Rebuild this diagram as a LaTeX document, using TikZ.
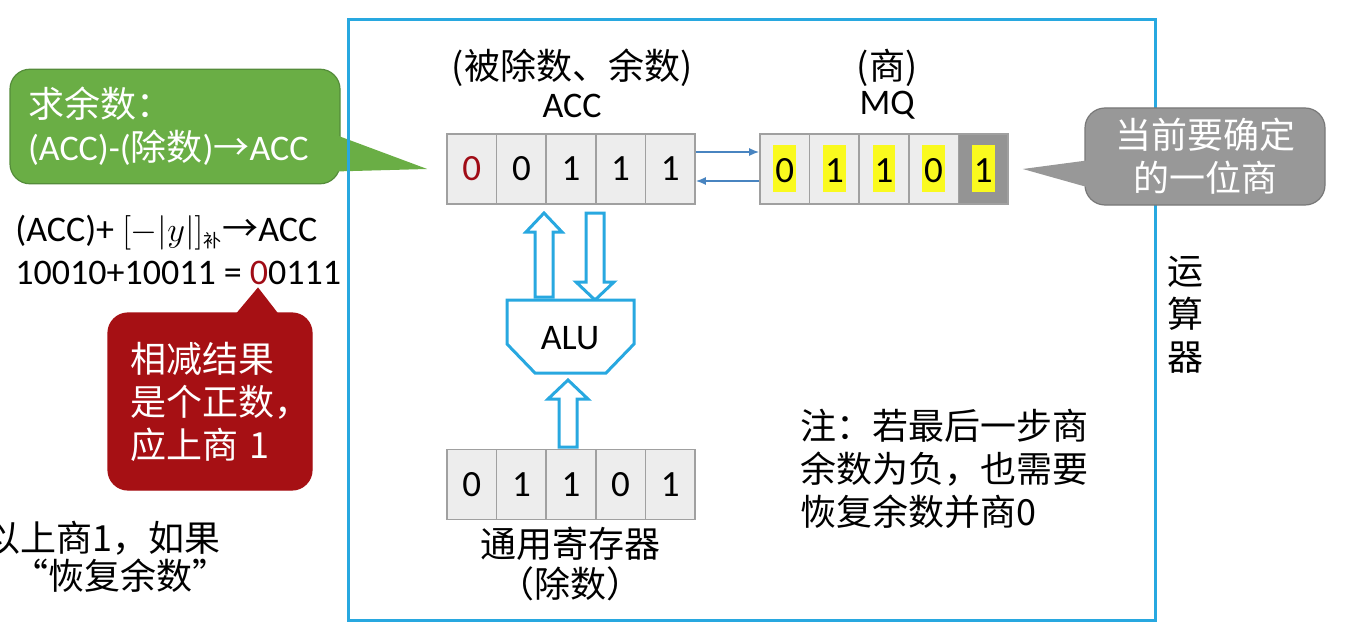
\documentclass[tikz,border=0pt]{standalone}
\usepackage{fontspec}
\setmainfont{Carlito}
\newfontfamily\cjk{Noto Sans CJK SC}
\usetikzlibrary{arrows.meta}

\definecolor{framecyan}{RGB}{40,168,224}
\definecolor{calgreen}{RGB}{106,174,69}
\definecolor{calgreendark}{RGB}{84,140,58}
\definecolor{calred}{RGB}{166,16,20}
\definecolor{calgray}{RGB}{152,152,152}
\definecolor{calgraydark}{RGB}{120,120,120}
\definecolor{cellfill}{RGB}{237,237,237}
\definecolor{cellline}{RGB}{160,160,160}
\definecolor{cellgray}{RGB}{148,148,148}
\definecolor{accred}{RGB}{160,12,22}
\definecolor{linkblue}{RGB}{72,132,192}
\definecolor{hlyellow}{RGB}{250,250,30}

\newcommand\hlbit[1]{{\setlength\fboxsep{1pt}\colorbox{hlyellow}{\rule[-4pt]{0pt}{21.5pt}#1}}}

\tikzset{
  cell/.style={draw=cellline, line width=0.8pt, fill=cellfill, minimum width=24.8pt,
    minimum height=35pt, inner sep=0pt, font=\fontsize{18.5}{18.5}\selectfont},
  bus/.style={draw=framecyan, line width=1.5pt, fill=white},
  link/.style={linkblue, line width=0.8pt, -{Latex[length=5pt,width=4pt]}},
  txt/.style={font=\cjk\fontsize{18}{21.5}\selectfont, inner sep=0pt},
  lat/.style={font=\fontsize{18}{21.5}\selectfont, inner sep=0pt},
  callbox/.style={rounded corners=10pt, text=white, line width=0.6pt,
    font=\cjk\fontsize{18}{21.5}\selectfont},
}

\begin{document}
\begin{tikzpicture}[x=0.5pt,y=-0.5pt]
\useasboundingbox (0,0) rectangle (1366,626);

% green callout (under the frame)
\node[callbox, fill=calgreen, draw=calgreendark, minimum width=165pt, minimum height=56.5pt,
  text width=147pt, inner sep=9pt, align=left] (qiuyu) at (175,126.5)
  {求余数：\\{\fontspec{Carlito}(ACC)-(}除数{\fontspec{Carlito})}→{\fontspec{Carlito}ACC}};

% registers
\foreach \d [count=\i] in {{\color{accred}0},0,1,1,1}
  \node[cell] (acc\i) at ({422.2+\i*49.6},169) {\d};
\foreach \d [count=\i] in {0,1,1,0}
  \node[cell] (mq\i) at ({735.2+\i*49.6},169) {\hlbit{\d}};
\node[cell, fill=cellgray] (mq5) at (983.2,169) {\hlbit{1}};
\foreach \d [count=\i] in {0,1,1,0,1}
  \node[cell] (reg\i) at ({422.2+\i*49.6},484.5) {\d};

\fill[calgreen] ([xshift=-3pt,yshift=-4pt]qiuyu.east) -- ([xshift=-9.5pt]acc1.west)
  -- ([xshift=-3pt,yshift=-22.5pt]qiuyu.east) -- cycle;

% frame
\draw[framecyan, line width=1.5pt] (348,20) rectangle (1155,620);

\node[txt, anchor=base] (acclbl) at (572,80) {(被除数、余数)};
\node[lat, anchor=base] (accname) at (572,118) {ACC};
\node[txt, anchor=base] (mqlbl) at (887,80) {(商)};
\node[lat, anchor=base] (mqname) at (887,115) {MQ};

\draw[link] ([yshift=8.5pt]acc5.east) -- ([yshift=8.5pt]mq1.west);
\draw[link] ([yshift=-6pt]mq1.west) -- ([yshift=-6pt]acc5.east);

% ALU and buses
\draw[bus] (535,297) -- (535,232) -- (526,232) -- (544,213) -- (562,232) -- (553,232) -- (553,297) -- cycle;
\draw[bus] (586,213) -- (586,282) -- (576,282) -- (595,300) -- (614,282) -- (604,282) -- (604,213) -- cycle;
\draw[bus] (507,300) -- (634,300) -- (634,344) -- (606,373) -- (535,373) -- (507,344) -- cycle;
\node[lat] (alu) at (570,338) {ALU};
\draw[bus] (559,447) -- (559,399) -- (548,399) -- (568,380) -- (588,399) -- (577,399) -- (577,447) -- cycle;

\node[txt, anchor=base] (reglbl) at (570,557) {通用寄存器};
\node[txt, anchor=base] (regsub) at (570,597) {（除数）};

% gray callout
\node[callbox, fill=calgray, draw=calgraydark, minimum width=120pt, minimum height=48.5pt,
  align=center] (dangqian) at (1205,156.5) {当前要确定\\的一位商};
\fill[calgray] ([xshift=3pt,yshift=-1.75pt]dangqian.west) -- ([xshift=7pt]mq5.east)
  -- ([xshift=3pt,yshift=-15.75pt]dangqian.west) -- cycle;

% left side
\node[lat, anchor=base west] (expr) at (15,242)
  {(ACC)+ $[-|y|]_{\mbox{\cjk\fontsize{9}{9}\selectfont 补}}${\cjk →}ACC};
\node[lat, anchor=base west] (sum) at (15,284) {10010+10011 = {\color{accred}0}0111};

\node[callbox, fill=calred, draw=calred, minimum width=102pt, minimum height=88.5pt,
  text width=80pt, inner sep=11pt, align=left] (xiangjian) at (210,401.5)
  {相减结果\\是个正数，\\应上商 1};
\fill[calred] ([xshift=11pt,yshift=-3pt]xiangjian.north) -- ([xshift=24pt,yshift=12.5pt]xiangjian.north)
  -- ([xshift=36pt,yshift=-3pt]xiangjian.north) -- cycle;

\node[txt, anchor=base west] (ifrest) at (-16,551) {以上商1，如果};
\node[txt, anchor=base] (restore) at (120,589) {“恢复余数”};

% note
\node[txt, anchor=north west, align=left] (note) at (800,409)
  {注：若最后一步商\\余数为负，也需要\\恢复余数并商0};
\node[txt, align=center] (unit) at (1185,315) {运\\算\\器};
\end{tikzpicture}
\end{document}
